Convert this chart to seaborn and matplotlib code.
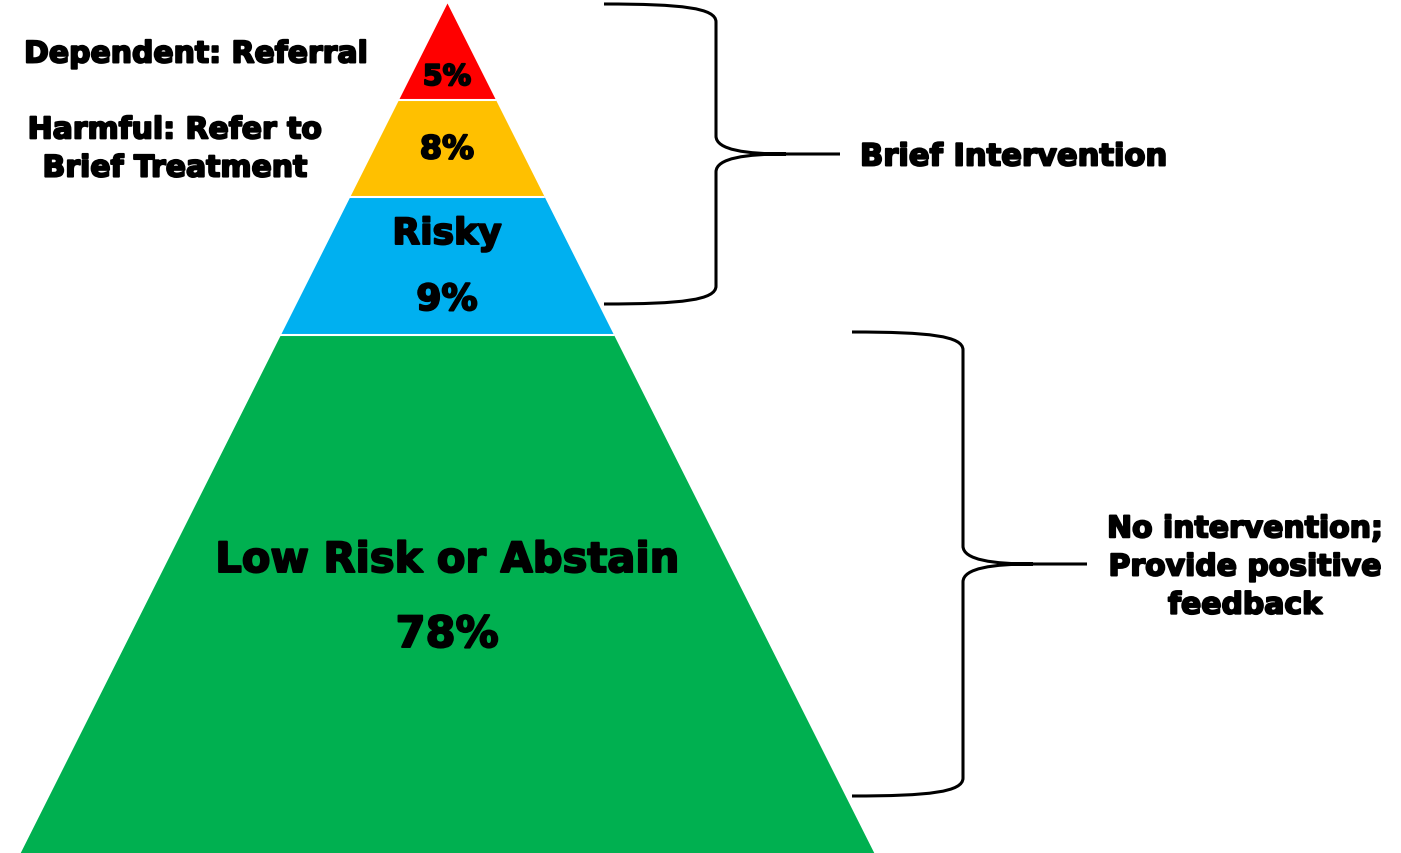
import numpy as np
import matplotlib
matplotlib.use("Agg")
import matplotlib.pyplot as plt
import matplotlib.patheffects as pe
from matplotlib.path import Path
from matplotlib.patches import PathPatch
import seaborn as sns

# ===============================
# 1. Data
# ===============================
levels = ["Dependent: Referral", "Harmful: Refer to\nBrief Treatment", "Risky", "Low Risk or Abstain"]
band_labels = ["", "", "Risky", "Low Risk or Abstain"]
pcts = [5, 8, 9, 78]
colors = ["#FF0000", "#FFC000", "#00B0F0", "#00B050"]
groups = ["Brief Intervention", "No intervention;\nProvide positive\nfeedback"]

# ===============================
# 2. Geometry (pixel units)
# ===============================
W, H = 1401, 854
apex_x, apex_y = 447, 4
base_y = 854
half_base = 427
edges = [4, 101, 198, 336, 854]


def half_width(y):
    return half_base * (y - apex_y) / (base_y - apex_y)


sns.set_theme(style="white")
plt.rcParams["font.family"] = ["DejaVu Sans"]

fig = plt.figure(figsize=(W / 100, H / 100), dpi=100)
ax = fig.add_axes([0, 0, 1, 1])
ax.set_xlim(0, W)
ax.set_ylim(H, 0)
ax.axis("off")

# ===============================
# 3. Pyramid bands
# ===============================
for i, (p, c) in enumerate(zip(pcts, colors)):
    y = np.array([edges[i], edges[i + 1]])
    hw = half_width(y)
    ax.fill_betweenx(y, apex_x - hw, apex_x + hw, color=c, lw=0)
    if i > 0:
        hw0 = half_width(edges[i])
        ax.plot([apex_x - hw0, apex_x + hw0], [edges[i]] * 2, color="white", lw=1.5)

# heavy look: bold font plus a thin outline
heavy = [pe.withStroke(linewidth=1.4, foreground="black")]
txt = dict(ha="center", va="center", fontweight="bold", color="black", path_effects=heavy)
ax.text(apex_x, 78, f"{pcts[0]}%", fontsize=20.5, **txt)
ax.text(apex_x, 151, f"{pcts[1]}%", fontsize=23, **txt)
ax.text(apex_x, 235, band_labels[2], fontsize=26, **txt)
ax.text(apex_x, 301, f"{pcts[2]}%", fontsize=26, **txt)
ax.text(apex_x, 561, band_labels[3], fontsize=30, **txt)
ax.text(apex_x, 636, f"{pcts[3]}%", fontsize=31, **txt)

# left side labels
ax.text(196, 55, levels[0], fontsize=21.5, **txt)
ax.text(175, 150, levels[1], fontsize=21.5, linespacing=1.4, **txt)


# ===============================
# 4. Braces
# ===============================
def brace(x0, xs, x_end, y_top, y_bot):
    ym = (y_top + y_bot) / 2
    r = 18
    verts = [
        (x0, y_top),
        (x0 + 0.7 * (xs - x0), y_top), (xs, y_top + 4), (xs, y_top + r),
        (xs, ym - r),
        (xs, ym - 4), (xs + 30, ym), (xs + 70, ym),
        (x_end, ym),
        (xs + 70, ym),
        (xs + 30, ym), (xs, ym + 4), (xs, ym + r),
        (xs, y_bot - r),
        (xs, y_bot - 4), (x0 + 0.7 * (xs - x0), y_bot), (x0, y_bot),
    ]
    codes = [Path.MOVETO,
             Path.CURVE4, Path.CURVE4, Path.CURVE4,
             Path.LINETO,
             Path.CURVE4, Path.CURVE4, Path.CURVE4,
             Path.LINETO,
             Path.MOVETO,
             Path.CURVE4, Path.CURVE4, Path.CURVE4,
             Path.LINETO,
             Path.CURVE4, Path.CURVE4, Path.CURVE4]
    ax.add_patch(PathPatch(Path(verts, codes), fill=False, lw=2.2, color="black",
                           capstyle="butt", joinstyle="round"))


brace(604, 716, 840, 5, 305)
brace(852, 963, 1087, 333, 797)

ax.text(860, 158, groups[0], fontsize=22, ha="left", va="center",
        fontweight="bold", color="black", path_effects=heavy)
ax.text(1245, 568, groups[1], fontsize=21.5, linespacing=1.4, **txt)

fig.savefig("out.png", dpi=100)
